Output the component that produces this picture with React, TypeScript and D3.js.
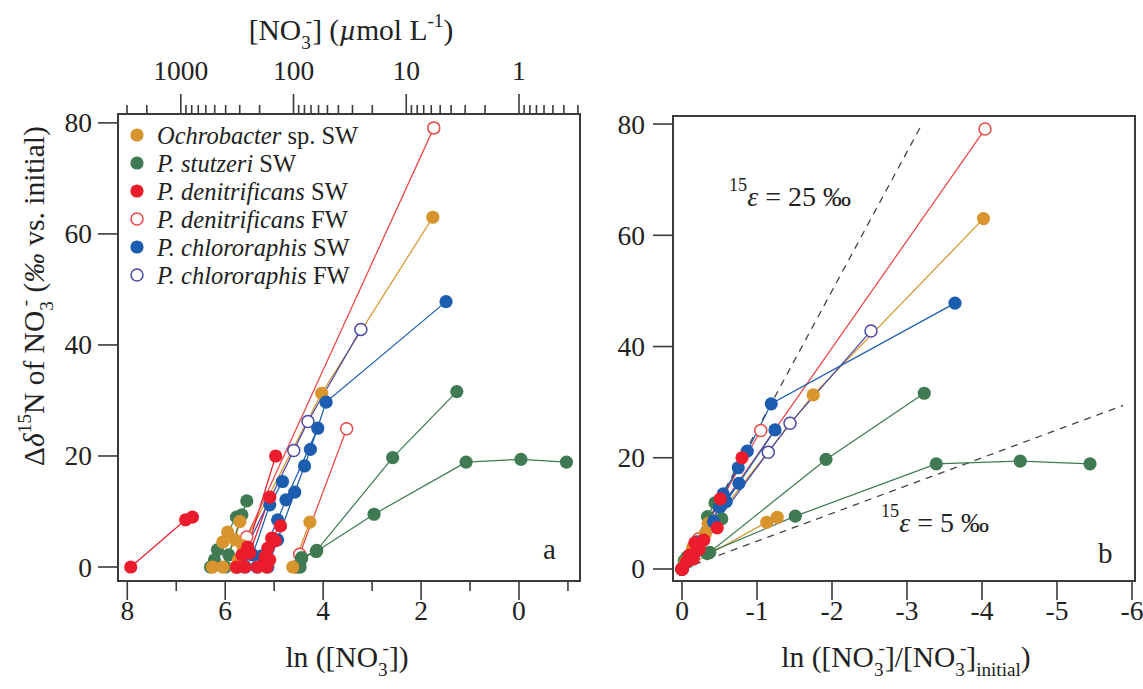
import React from "react";
import * as d3 from "d3";

type Run = { c0: number; f: number[]; d: number[]; only?: "a" | "b" };

// each run: initial ln([NO3-]) (umol/L), ln(f) of every sample, and delta-15N shift (permil)
const ochrobacterRuns: Run[] = [
  { c0: 5.78, f: [0, -0.05, -0.14, -1.75, -4.02], d: [0, 1.3, 3.8, 31.3, 63.0] },
  { c0: 6.05, f: [0, -0.25, -0.35], d: [0, 4.9, 8.2] },
  { c0: 6.26, f: [0, -0.21, -0.31], d: [0, 4.5, 6.3] },
  { c0: 4.62, f: [0, -0.35], d: [0, 8.1] },
  { c0: 7.93, f: [0, -1.13, -1.27], d: [0, 8.4, 9.3], only: "b" },
];
const stutzeriRuns: Run[] = [
  { c0: 4.5, f: [0, -0.06, -0.37, -1.92, -3.23], d: [0, 1.7, 3.0, 19.7, 31.6] },
  { c0: 4.47, f: [0, -0.03, -0.33, -1.51, -3.39, -4.51, -5.44], d: [0, 1.5, 2.8, 9.5, 18.9, 19.4, 18.9] },
  { c0: 6.3, f: [0, -0.08, -0.14, -0.53], d: [0, 1.3, 3.1, 9.0] },
  { c0: 6.0, f: [0, -0.07, -0.34, -0.44], d: [0, 2.2, 9.4, 11.9] },
];
const denitrSWRuns: Run[] = [
  { c0: 7.93, f: [0, -1.12, -1.26], d: [0, 8.5, 9.0], only: "a" },
  { c0: 5.77, f: [0, -0.11, -0.23, -0.8], d: [0, 2.2, 3.6, 20.0] },
  { c0: 5.6, f: [0, -0.1, -0.51], d: [0, 2.5, 12.6] },
  { c0: 5.34, f: [0, -0.15, -0.21, -0.29, -0.47], d: [0, 1.8, 3.4, 5.2, 7.4] },
  { c0: 5.15, f: [0, -0.06, -0.17], d: [0, 1.3, 4.7] },
];
const denitrFWRuns: Run[] = [
  { c0: 5.78, f: [0, -0.22, -4.04], d: [0, 5.4, 79.1] },
  { c0: 4.57, f: [0, -0.09, -1.05], d: [0, 2.3, 24.9] },
];
const chloroSWRuns: Run[] = [
  { c0: 5.13, f: [0, -0.2, -0.55, -0.75, -0.87, -1.19, -3.64], d: [0, 4.9, 13.5, 18.2, 21.2, 29.7, 47.8] },
  { c0: 5.35, f: [0, -0.1, -0.42, -0.59, -1.24], d: [0, 2.0, 8.5, 12.1, 25.0] },
  { c0: 5.59, f: [0, -0.15, -0.5, -0.76], d: [0, 2.2, 11.2, 15.4] },
];
const chloroFWRuns: Run[] = [
  { c0: 5.75, f: [0, -0.1, -1.15, -1.44, -2.52], d: [0, 2.0, 21.0, 26.2, 42.8] },
];

const yTicks = [0, 20, 40, 60, 80];
const lnTicksMajor = [8, 6, 4, 2, 0];
const lnTicksMinor = [7, 5, 3, 1, -1];
const lnFTicks = [0, -1, -2, -3, -4, -5, -6];
const concLabels = [1000, 100, 10, 1];
// reference fractionation lines in panel b (permil), drawn over ln(f) ranges
const epsLines = [
  { eps: 25, from: 0, to: -3.2 },
  { eps: 5, from: 0, to: -5.88 },
];

type Part = { t: string; it?: boolean; sub?: boolean; sup?: boolean; sh?: number; dx?: number; fs?: number };

const FONT = "'Liberation Serif', 'Times New Roman', serif";
const AX = "#3a3a3a";
const TXT = "#222";

const series = [
  { key: "ochro", runs: ochrobacterRuns, color: "#D8952E", open: false,
    label: [{ t: "Ochrobacter", it: true }, { t: " sp. SW" }] },
  { key: "stutz", runs: stutzeriRuns, color: "#3F7A52", open: false,
    label: [{ t: "P. stutzeri", it: true }, { t: " SW" }] },
  { key: "denSW", runs: denitrSWRuns, color: "#EC1C2D", open: false,
    label: [{ t: "P. denitrificans", it: true }, { t: " SW" }] },
  { key: "denFW", runs: denitrFWRuns, color: "#EE4545", open: true,
    label: [{ t: "P. denitrificans", it: true }, { t: " FW" }] },
  { key: "chlSW", runs: chloroSWRuns, color: "#1C5DAF", open: false,
    label: [{ t: "P. chlororaphis", it: true }, { t: " SW" }] },
  { key: "chlFW", runs: chloroFWRuns, color: "#4A4AA6", open: true,
    label: [{ t: "P. chlororaphis", it: true }, { t: " FW" }] },
];
const markerOrder = ["chlFW", "denFW", "stutz", "ochro", "chlSW", "denSW"];

const A = { x0: 118, x1: 580, y0: 114, y1: 581 };
const B = { x0: 673, x1: 1135, y0: 116, y1: 581 };

const xA = d3.scaleLinear().domain([8.19, -1.246]).range([A.x0, A.x1]);
const yA = d3.scaleLinear().domain([-2.52, 81.6]).range([A.y1, A.y0]);
const topA = d3.scaleLog().domain([Math.exp(8.19), Math.exp(-1.246)]).range([A.x0, A.x1]);
const xB = d3.scaleLinear().domain([0.12, -6.04]).range([B.x0, B.x1]);
const yB = d3.scaleLinear().domain([-2.16, 81.45]).range([B.y1, B.y0]);

function Rich({ x, y, parts, size, anchor = "start", transform }: any) {
  let cur = 0;
  return (
    <text x={x} y={y} fontSize={size} textAnchor={anchor} transform={transform} fontFamily={FONT} fill={TXT}>
      {parts.map((p: Part, i: number) => {
        const target = p.sh !== undefined ? p.sh * size : p.sub ? 0.3 * size : p.sup ? -0.45 * size : 0;
        const dy = target - cur;
        cur = target;
        return (
          <tspan key={i} dy={dy} dx={p.dx} fontStyle={p.it ? "italic" : undefined}
            fontSize={p.fs ? p.fs * size : p.sub || p.sup ? size * 0.65 : undefined}>
            {p.t}
          </tspan>
        );
      })}
    </text>
  );
}

function Points({ panel }: { panel: "a" | "b" }) {
  const xs = panel === "a" ? xA : xB;
  const ys = panel === "a" ? yA : yB;
  const px = (r: Run, i: number) => xs(panel === "a" ? r.c0 + r.f[i] : r.f[i]);
  const lines: any[] = [];
  const marks: any[] = [];
  series.forEach((s) => {
    s.runs.forEach((r, ri) => {
      if (r.only && r.only !== panel) return;
      const idx = r.f.map((_, i) => i);
      const path = d3.line<number>().x((i) => px(r, i)).y((i) => ys(r.d[i]))(idx);
      lines.push(<path key={s.key + ri} d={path || ""} fill="none" stroke={s.color} strokeWidth={1.25} />);
    });
  });
  markerOrder.forEach((k) => {
    const s = series.find((q) => q.key === k)!;
    s.runs.forEach((r, ri) => {
      if (r.only && r.only !== panel) return;
      r.f.forEach((_, i) => {
        marks.push(
          s.open ? (
            <circle key={k + ri + "_" + i} cx={px(r, i)} cy={ys(r.d[i])} r={6} fill="#fff" stroke={s.color} strokeWidth={1.5} />
          ) : (
            <circle key={k + ri + "_" + i} cx={px(r, i)} cy={ys(r.d[i])} r={6.6} fill={s.color} />
          )
        );
      });
    });
  });
  return (
    <g>
      {lines}
      {marks}
    </g>
  );
}

const no3: Part[] = [{ t: "[NO" }, { t: "3", sub: true }, { t: "-", sup: true, dx: -5 }, { t: "]" }];

export default function App() {
  const TS = 27.5; // tick labels
  const TT = 29.5; // axis titles
  const LBL_Y = 620;
  const TITLE_Y = 667;
  return (
    <svg width={1143} height={689} style={{ position: "absolute", left: 0, top: 0, background: "#fff" }}>
      {/* ---------- panel a ---------- */}
      {yTicks.map((t) => (
        <g key={"ya" + t}>
          <line x1={A.x0 - 20} x2={A.x0} y1={yA(t)} y2={yA(t)} stroke={AX} strokeWidth={1.6} />
          <text x={A.x0 - 26} y={yA(t) + 9.5} fontSize={TS} fontFamily={FONT} textAnchor="end" fill={TXT}>{t}</text>
        </g>
      ))}
      {lnTicksMajor.map((t) => (
        <g key={"xa" + t}>
          <line x1={xA(t)} x2={xA(t)} y1={A.y1} y2={A.y1 + 19} stroke={AX} strokeWidth={1.6} />
          <text x={xA(t)} y={LBL_Y} fontSize={TS} fontFamily={FONT} textAnchor="middle" fill={TXT}>{t}</text>
        </g>
      ))}
      {lnTicksMinor.map((t) => (
        <line key={"xam" + t} x1={xA(t)} x2={xA(t)} y1={A.y1} y2={A.y1 + 10} stroke={AX} strokeWidth={1.6} />
      ))}
      {topA.ticks().map((v, i) => {
        const major = concLabels.includes(Math.round(v * 1000) / 1000);
        return (
          <line key={"ta" + i} x1={topA(v)} x2={topA(v)} y1={A.y0} y2={A.y0 - (major ? 20 : 9)} stroke={AX} strokeWidth={1.6} />
        );
      })}
      {concLabels.map((v) => (
        <text key={"tl" + v} x={topA(v)} y={80} fontSize={TS} fontFamily={FONT} textAnchor="middle" fill={TXT}>{v}</text>
      ))}
      <Rich x={351} y={40} size={TT} anchor="middle"
        parts={[...no3, { t: " (" }, { t: "µ", it: true }, { t: "mol L" }, { t: "-1", sup: true }, { t: ")" }]} />
      <Rich x={347} y={TITLE_Y} size={TT} anchor="middle" parts={[{ t: "ln (" }, ...no3, { t: ")" }]} />
      <Rich x={44} y={296} size={TT} anchor="middle" transform="rotate(-90, 44, 296)"
        parts={[{ t: "Δ" }, { t: "δ", it: true }, { t: "15", sup: true }, { t: "N of NO" }, { t: "3", sub: true },
          { t: "-", sup: true, dx: -5 }, { t: " (" }, { t: "‰", it: true }, { t: " vs. initial)" }]} />

      <Points panel="a" />
      <rect x={A.x0} y={A.y0} width={A.x1 - A.x0} height={A.y1 - A.y0} fill="none" stroke={AX} strokeWidth={2} />

      {/* legend */}
      {series.map((s, i) => {
        const cy = 135 + i * 28;
        return (
          <g key={"lg" + s.key}>
            {s.open ? (
              <circle cx={137} cy={cy} r={6} fill="#fff" stroke={s.color} strokeWidth={1.5} />
            ) : (
              <circle cx={137} cy={cy} r={6.6} fill={s.color} />
            )}
            <Rich x={157} y={cy + 9} size={24.5} parts={s.label} />
          </g>
        );
      })}
      <text x={543} y={559} fontSize={29} fontFamily={FONT} fill={TXT}>a</text>

      {/* ---------- panel b ---------- */}
      {yTicks.map((t) => (
        <g key={"yb" + t}>
          <line x1={B.x0 - 20} x2={B.x0} y1={yB(t)} y2={yB(t)} stroke={AX} strokeWidth={1.6} />
          <text x={B.x0 - 28} y={yB(t) + 9.5} fontSize={TS} fontFamily={FONT} textAnchor="end" fill={TXT}>{t}</text>
        </g>
      ))}
      {lnFTicks.map((t) => (
        <g key={"xb" + t}>
          <line x1={xB(t)} x2={xB(t)} y1={B.y1} y2={B.y1 + 19} stroke={AX} strokeWidth={1.6} />
          <text x={xB(t)} y={LBL_Y} fontSize={TS} fontFamily={FONT} textAnchor="middle" fill={TXT}>{t}</text>
        </g>
      ))}
      <Rich x={906} y={TITLE_Y} size={TT} anchor="middle"
        parts={[{ t: "ln (" }, ...no3, { t: "/" }, ...no3, { t: "initial", sub: true }, { t: ")" }]} />

      {epsLines.map((e) => (
        <line key={"eps" + e.eps} x1={xB(e.from)} y1={yB(-e.eps * e.from)} x2={xB(e.to)} y2={yB(-e.eps * e.to)}
          stroke="#444" strokeWidth={1.3} strokeDasharray="7 6" />
      ))}
      <Points panel="b" />
      <rect x={B.x0} y={B.y0} width={B.x1 - B.x0} height={B.y1 - B.y0} fill="none" stroke={AX} strokeWidth={2} />

      <Rich x={729} y={206} size={28}
        parts={[{ t: "15", sh: -0.55, fs: 0.65 }, { t: "ε", it: true, sh: 0 }, { t: " = 25 ‰" }]} />
      <Rich x={881} y={532} size={28}
        parts={[{ t: "15", sh: -0.55, fs: 0.65 }, { t: "ε", it: true, sh: 0 }, { t: " = 5 ‰" }]} />
      <text x={1098} y={563} fontSize={29} fontFamily={FONT} fill={TXT}>b</text>
    </svg>
  );
}
